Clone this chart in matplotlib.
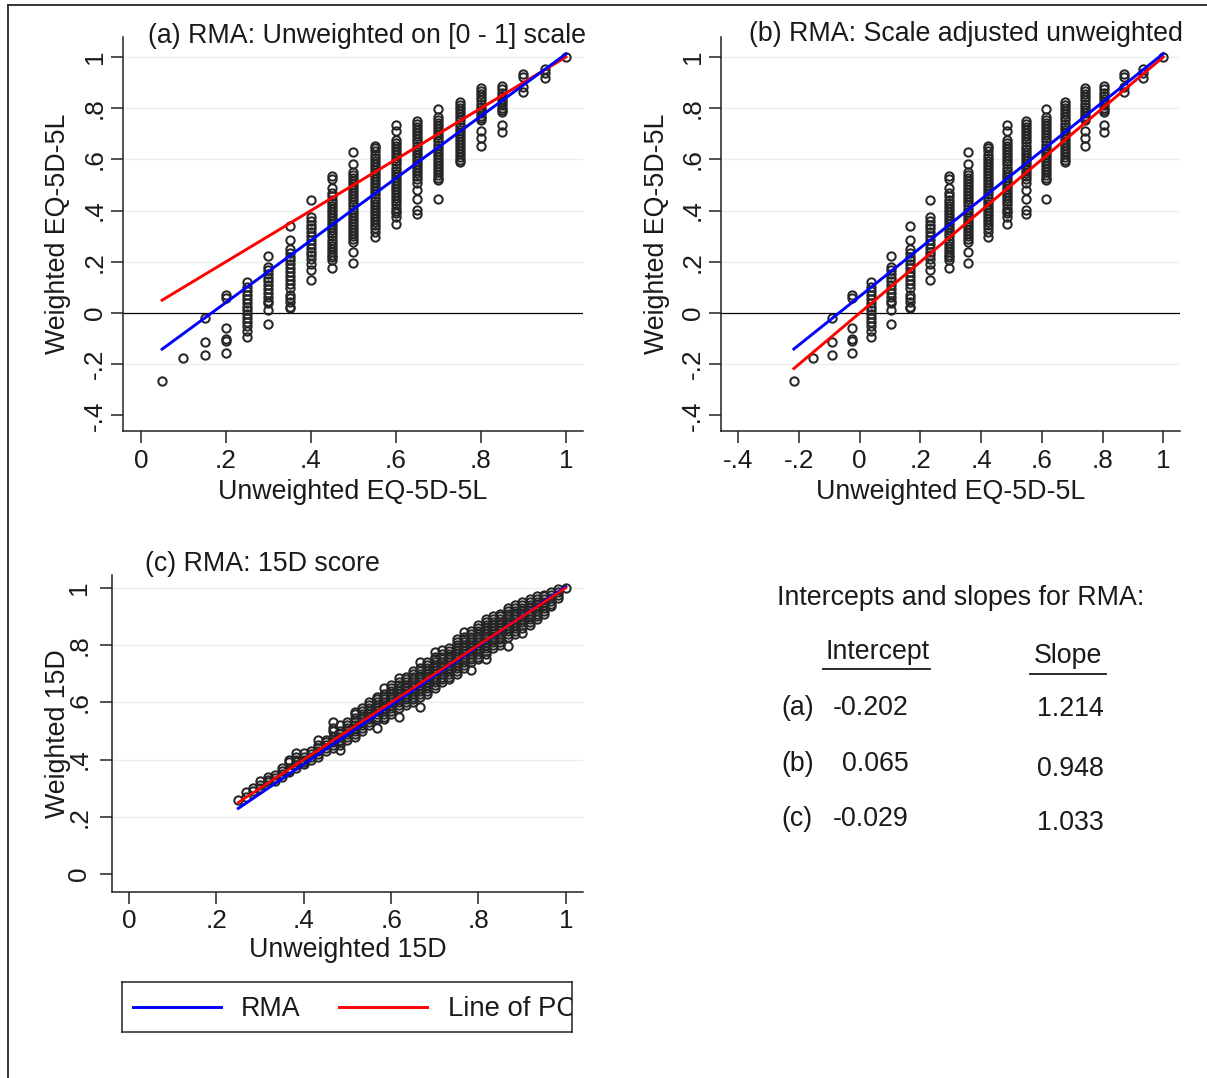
import matplotlib
matplotlib.use('Agg')
import matplotlib.pyplot as plt
from matplotlib.lines import Line2D

plt.rcParams['font.family'] = ['Liberation Sans', 'DejaVu Sans']

# ---------------- data ----------------
# Panel (a): unweighted EQ-5D-5L on [0-1] scale (discrete columns)
x_a = [0.05, 0.10, 0.15, 0.20, 0.25, 0.30, 0.35, 0.40, 0.45, 0.50,
       0.55, 0.60, 0.65, 0.70, 0.75, 0.80, 0.85, 0.90, 0.95, 1.00]
# Panel (b): scale adjusted unweighted values of the same columns
x_b = [-0.217, -0.153, -0.090, -0.026, 0.038, 0.102, 0.166, 0.230, 0.294, 0.358,
       0.422, 0.485, 0.549, 0.613, 0.677, 0.741, 0.805, 0.869, 0.932, 1.000]
# Weighted EQ-5D-5L values in each column (shared by (a) and (b))
y_eq_cols = [
    [-0.264],
    [-0.177],
    [-0.021, -0.115, -0.163],
    [0.07, 0.06, -0.06, -0.10, -0.11, -0.155],
    [0.12, 0.10, 0.085, 0.07, 0.055, 0.04, 0.025, 0.01, -0.005, -0.02, -0.035, -0.05, -0.07, -0.095],
    [0.224, 0.181, 0.168, 0.153, 0.138, 0.123, 0.108, 0.093, 0.078, 0.063, 0.048, 0.038, 0.012, -0.042],
    [0.34, 0.285, 0.249, 0.235, 0.22, 0.205, 0.19, 0.175, 0.16, 0.145, 0.13, 0.115, 0.096, 0.07, 0.06,
     0.044, 0.025, 0.018],
    [0.44, 0.376, 0.36, 0.345, 0.33, 0.315, 0.30, 0.285, 0.27, 0.255, 0.24, 0.225, 0.21, 0.19, 0.168, 0.129],
    [0.534, 0.522, 0.487, 0.467, 0.455, 0.443, 0.431, 0.419, 0.407, 0.395, 0.383, 0.371, 0.359, 0.347,
     0.335, 0.323, 0.311, 0.299, 0.287, 0.275, 0.263, 0.251, 0.239, 0.227, 0.220, 0.207, 0.176],
    [0.63, 0.582, 0.552, 0.540, 0.528, 0.516, 0.504, 0.492, 0.480, 0.468, 0.456, 0.444, 0.432, 0.420,
     0.408, 0.396, 0.384, 0.372, 0.360, 0.348, 0.336, 0.324, 0.312, 0.300, 0.288, 0.276, 0.237, 0.197],
    [0.652, 0.643, 0.631, 0.619, 0.607, 0.595, 0.583, 0.571, 0.559, 0.547, 0.535, 0.523, 0.511, 0.499,
     0.487, 0.475, 0.463, 0.451, 0.439, 0.427, 0.415, 0.403, 0.391, 0.379, 0.367, 0.355, 0.343, 0.331,
     0.318, 0.298],
    [0.734, 0.712, 0.676, 0.664, 0.652, 0.640, 0.628, 0.616, 0.604, 0.592, 0.580, 0.568, 0.556, 0.544,
     0.532, 0.520, 0.508, 0.496, 0.484, 0.472, 0.460, 0.448, 0.436, 0.424, 0.412, 0.400, 0.389, 0.376,
     0.346],
    [0.75, 0.738, 0.726, 0.714, 0.702, 0.690, 0.678, 0.666, 0.654, 0.642, 0.630, 0.618, 0.606, 0.594,
     0.582, 0.570, 0.558, 0.546, 0.534, 0.522, 0.507, 0.48, 0.444, 0.402, 0.387],
    [0.798, 0.767, 0.754, 0.742, 0.730, 0.718, 0.706, 0.694, 0.682, 0.670, 0.658, 0.646, 0.634, 0.622,
     0.610, 0.598, 0.586, 0.574, 0.562, 0.550, 0.538, 0.526, 0.52, 0.447],
    [0.824, 0.812, 0.800, 0.788, 0.776, 0.764, 0.752, 0.740, 0.728, 0.716, 0.704, 0.692, 0.680, 0.668,
     0.656, 0.644, 0.632, 0.620, 0.608, 0.596, 0.591],
    [0.878, 0.866, 0.854, 0.842, 0.830, 0.818, 0.806, 0.794, 0.782, 0.770, 0.760, 0.754, 0.712, 0.682,
     0.652],
    [0.885, 0.873, 0.861, 0.849, 0.837, 0.825, 0.813, 0.801, 0.792, 0.786, 0.734, 0.708],
    [0.934, 0.92, 0.884, 0.862],
    [0.952, 0.936, 0.919],
    [1.0],
]

# Panel (c): unweighted 15D columns and weighted 15D values
x_c = [0.250, 0.267, 0.283, 0.300, 0.317, 0.333, 0.350, 0.367, 0.383, 0.400,
       0.417, 0.433, 0.450, 0.467, 0.483, 0.500, 0.517, 0.533, 0.550, 0.567,
       0.583, 0.600, 0.617, 0.633, 0.650, 0.667, 0.683, 0.700, 0.717, 0.733,
       0.750, 0.767, 0.783, 0.800, 0.817, 0.833, 0.850, 0.867, 0.883, 0.900,
       0.917, 0.933, 0.950, 0.967, 0.983, 1.000]
y_c_cols = [
    [0.26],
    [0.27, 0.285],
    [0.30, 0.29],
    [0.31, 0.326, 0.30],
    [0.33, 0.32, 0.34],
    [0.346, 0.335, 0.325],
    [0.36, 0.35, 0.34, 0.37],
    [0.40, 0.39, 0.37, 0.36, 0.355],
    [0.423, 0.41, 0.40, 0.39, 0.38, 0.37],
    [0.424, 0.41, 0.40, 0.39, 0.385],
    [0.43, 0.42, 0.41, 0.40],
    [0.468, 0.45, 0.44, 0.43, 0.42, 0.41],
    [0.47, 0.46, 0.45, 0.44, 0.43],
    [0.532, 0.51, 0.50, 0.48, 0.47, 0.46, 0.45, 0.44],
    [0.52, 0.50, 0.49, 0.48, 0.47, 0.46, 0.434, 0.45],
    [0.53, 0.52, 0.51, 0.50, 0.49, 0.48, 0.47],
    [0.567, 0.56, 0.545, 0.53, 0.52, 0.51, 0.50, 0.49, 0.48],
    [0.58, 0.57, 0.56, 0.55, 0.54, 0.53, 0.52, 0.51, 0.50],
    [0.60, 0.59, 0.58, 0.57, 0.56, 0.55, 0.54, 0.53, 0.52],
    [0.62, 0.61, 0.60, 0.59, 0.58, 0.57, 0.56, 0.55, 0.54, 0.509],
    [0.649, 0.63, 0.62, 0.61, 0.60, 0.59, 0.58, 0.57, 0.56, 0.55, 0.54],
    [0.66, 0.65, 0.64, 0.63, 0.62, 0.61, 0.60, 0.59, 0.58, 0.57, 0.56],
    [0.684, 0.67, 0.66, 0.65, 0.64, 0.63, 0.62, 0.61, 0.60, 0.59, 0.58, 0.55],
    [0.69, 0.68, 0.67, 0.66, 0.65, 0.64, 0.63, 0.62, 0.61, 0.60, 0.59],
    [0.71, 0.70, 0.69, 0.68, 0.67, 0.66, 0.65, 0.64, 0.63, 0.62, 0.61, 0.60],
    [0.742, 0.72, 0.71, 0.70, 0.69, 0.68, 0.67, 0.66, 0.65, 0.64, 0.63, 0.62, 0.583],
    [0.74, 0.73, 0.72, 0.71, 0.70, 0.69, 0.68, 0.67, 0.66, 0.65, 0.64, 0.63],
    [0.777, 0.76, 0.75, 0.74, 0.73, 0.72, 0.71, 0.70, 0.69, 0.68, 0.67, 0.66, 0.65],
    [0.783, 0.77, 0.76, 0.75, 0.74, 0.73, 0.72, 0.71, 0.70, 0.69, 0.68, 0.67],
    [0.79, 0.78, 0.77, 0.76, 0.75, 0.74, 0.73, 0.72, 0.71, 0.70, 0.69, 0.68],
    [0.82, 0.81, 0.80, 0.79, 0.78, 0.77, 0.76, 0.75, 0.74, 0.73, 0.72, 0.71, 0.70],
    [0.847, 0.83, 0.82, 0.81, 0.80, 0.79, 0.78, 0.77, 0.76, 0.75, 0.74, 0.73, 0.72],
    [0.85, 0.84, 0.83, 0.82, 0.81, 0.80, 0.79, 0.78, 0.77, 0.76, 0.75, 0.74, 0.713],
    [0.87, 0.86, 0.85, 0.84, 0.83, 0.82, 0.81, 0.80, 0.79, 0.78, 0.77, 0.76, 0.75],
    [0.89, 0.88, 0.87, 0.86, 0.85, 0.84, 0.83, 0.82, 0.81, 0.80, 0.79, 0.78, 0.77, 0.75],
    [0.90, 0.89, 0.88, 0.87, 0.86, 0.85, 0.84, 0.83, 0.82, 0.81, 0.80, 0.79],
    [0.91, 0.90, 0.89, 0.88, 0.87, 0.86, 0.85, 0.84, 0.83, 0.82, 0.81, 0.80],
    [0.929, 0.92, 0.91, 0.90, 0.89, 0.88, 0.87, 0.86, 0.85, 0.84, 0.83, 0.797],
    [0.94, 0.93, 0.92, 0.91, 0.90, 0.89, 0.88, 0.87, 0.86, 0.85, 0.84],
    [0.95, 0.94, 0.93, 0.92, 0.91, 0.90, 0.89, 0.88, 0.87, 0.86, 0.841],
    [0.96, 0.95, 0.94, 0.93, 0.92, 0.91, 0.90, 0.89, 0.88, 0.87],
    [0.97, 0.96, 0.95, 0.94, 0.93, 0.92, 0.91, 0.90, 0.89],
    [0.976, 0.97, 0.96, 0.95, 0.94, 0.93, 0.92, 0.91],
    [0.985, 0.975, 0.965, 0.955, 0.945, 0.935],
    [0.995, 0.985, 0.975, 0.965],
    [1.0],
]

# RMA fits (from the table)
panel_ids = ['(a)', '(b)', '(c)']
intercepts = [-0.202, 0.065, -0.029]
slopes = [1.214, 0.948, 1.033]
intercept_labels = ['-0.202', '0.065', '-0.029']
slope_labels = ['1.214', '0.948', '1.033']

titles = ['(a) RMA: Unweighted on [0 - 1] scale',
          '(b) RMA: Scale adjusted unweighted',
          '(c) RMA: 15D score']

yticks_eq = [-0.4, -0.2, 0, 0.2, 0.4, 0.6, 0.8, 1]
yticklabels_eq = ['-.4', '-.2', '0', '.2', '.4', '.6', '.8', '1']
xticks_a = [0, 0.2, 0.4, 0.6, 0.8, 1]
xticklabels_a = ['0', '.2', '.4', '.6', '.8', '1']
xticks_b = [-0.4, -0.2, 0, 0.2, 0.4, 0.6, 0.8, 1]
xticklabels_b = ['-.4', '-.2', '0', '.2', '.4', '.6', '.8', '1']
ticks_c = [0, 0.2, 0.4, 0.6, 0.8, 1]
ticklabels_c = ['0', '.2', '.4', '.6', '.8', '1']

legend_labels = ['RMA', 'Line of PC']

# ---------------- styling ----------------
W, H = 1207, 1078
TXT = '#1a1a1a'
MK = '#262626'
GRID = '#e8f0f2'
FS_TICK = 18.8
FS_LAB = 19.3
BLUE = '#0000ff'
RED = '#ff0000'

fig = plt.figure(figsize=(W / 100, H / 100), dpi=100)
fig.patch.set_facecolor('white')


def fr(l, t, r, b):
    return [l / W, 1 - b / H, (r - l) / W, (b - t) / H]


def flatten(xs, cols):
    xx, yy = [], []
    for x, col in zip(xs, cols):
        for y in col:
            xx.append(x)
            yy.append(y)
    return xx, yy


def style_axes(ax, xlim, ylim, xt, xtl, yt, ytl, grid_vals, zero_line, ypad=3):
    ax.set_xlim(*xlim)
    ax.set_ylim(*ylim)
    for s in ['top', 'right']:
        ax.spines[s].set_visible(False)
    for s in ['left', 'bottom']:
        ax.spines[s].set_linewidth(1.1)
        ax.spines[s].set_color('#222222')
    ax.set_xticks(xt)
    ax.set_xticklabels(xtl)
    ax.set_yticks(yt)
    ax.set_yticklabels(ytl)
    ax.tick_params(axis='both', direction='out', length=8.6, width=1.1,
                   color='#222222', labelsize=FS_TICK, labelcolor=TXT)
    ax.tick_params(axis='x', pad=4)
    ax.tick_params(axis='y', pad=ypad, labelrotation=90)
    for lab in ax.get_yticklabels():
        lab.set_va('center')
    for g in grid_vals:
        ax.axhline(g, color=GRID, lw=1.0, zorder=0)
    if zero_line:
        ax.axhline(0, color='black', lw=0.9, zorder=1)


def set_labels(ax, xlabel, ylabel, xl_pos, yl_pos):
    ax.set_xlabel(xlabel, fontsize=FS_LAB, color=TXT)
    ax.set_ylabel(ylabel, fontsize=FS_LAB, color=TXT)
    ax.xaxis.label.set_va('center')
    ax.yaxis.label.set_va('center')
    ax.yaxis.label.set_rotation_mode('anchor')
    ax.xaxis.set_label_coords(*xl_pos)
    ax.yaxis.set_label_coords(*yl_pos)


mk_kw = dict(linestyle='none', marker='o', markersize=6.0, markerfacecolor='none',
             markeredgecolor=MK, markeredgewidth=1.45, zorder=2)
LW = 2.1

# ---------- panel (a) ----------
ax_a = fig.add_axes(fr(123, 37, 583, 431))
ya_lim = (-0.461, 1.078)
style_axes(ax_a, (-0.042, 1.04), ya_lim, xticks_a, xticklabels_a, yticks_eq, yticklabels_eq,
           [0.2, 0.4, 0.6, 0.8, 1.0, -0.2], True)
xx, yy = flatten(x_a, y_eq_cols)
ax_a.plot(xx, yy, **mk_kw)
xa0, xa1 = min(x_a), max(x_a)
ax_a.plot([xa0, xa1], [xa0, xa1], color=RED, lw=LW, zorder=3)
ax_a.plot([xa0, xa1], [intercepts[0] + slopes[0] * xa0, intercepts[0] + slopes[0] * xa1],
          color=BLUE, lw=LW, zorder=3)
set_labels(ax_a, 'Unweighted EQ-5D-5L', 'Weighted EQ-5D-5L',
           (0.5, (431 - 492) / 394), ((58 - 123) / 460, 0.5))

# ---------- panel (b) ----------
ax_b = fig.add_axes(fr(720.7, 37, 1180, 431))
style_axes(ax_b, (-0.458, 1.055), ya_lim, xticks_b, xticklabels_b, yticks_eq, yticklabels_eq,
           [0.2, 0.4, 0.6, 0.8, 1.0, -0.2], True)
xx, yy = flatten(x_b, y_eq_cols)
ax_b.plot(xx, yy, **mk_kw)
xb0, xb1 = min(x_b), max(x_b)
ax_b.plot([xb0, xb1], [xb0, xb1], color=RED, lw=LW, zorder=3)
ax_b.plot([xb0, xb1], [intercepts[1] + slopes[1] * xb0, intercepts[1] + slopes[1] * xb1],
          color=BLUE, lw=LW, zorder=4)
set_labels(ax_b, 'Unweighted EQ-5D-5L', 'Weighted EQ-5D-5L',
           (0.5, (431 - 492) / 394), ((657 - 720.7) / 459.3, 0.5))

# ---------- panel (c) ----------
ax_c = fig.add_axes(fr(111.7, 575, 583.3, 891.7))
style_axes(ax_c, (-0.040, 1.040), (-0.062, 1.045), ticks_c, ticklabels_c, ticks_c, ticklabels_c,
           [0.2, 0.4, 0.6, 0.8, 1.0], False, ypad=6)
xx, yy = flatten(x_c, y_c_cols)
ax_c.plot(xx, yy, **mk_kw)
xc0, xc1 = min(x_c), max(x_c)
ax_c.plot([xc0, xc1], [intercepts[2] + slopes[2] * xc0, intercepts[2] + slopes[2] * xc1],
          color=BLUE, lw=LW, zorder=3)
ax_c.plot([xc0, xc1], [xc0, xc1], color=RED, lw=LW * 0.9, zorder=4)
set_labels(ax_c, 'Unweighted 15D', 'Weighted 15D',
           (0.5, (891.7 - 950) / 316.7), ((58 - 111.7) / 471.6, 0.5))

# ---------- titles ----------
def ftext(x, y, s, **kw):
    kw.setdefault('fontsize', FS_LAB)
    kw.setdefault('color', TXT)
    kw.setdefault('va', 'center')
    fig.text(x / W, 1 - y / H, s, **kw)


ftext(148, 36, titles[0], ha='left')
ftext(749, 34, titles[1], ha='left')
ftext(145, 564, titles[2], ha='left')

# ---------- table text ----------
ftext(961, 598, 'Intercepts and slopes for RMA:', ha='center')
ftext(878, 652, 'Intercept', ha='center')
ftext(1068, 656, 'Slope', ha='center')
fig.add_artist(Line2D([823 / W, 930 / W], [1 - 669 / H, 1 - 669 / H], color=TXT, lw=1.3))
fig.add_artist(Line2D([1030 / W, 1106 / W], [1 - 674 / H, 1 - 674 / H], color=TXT, lw=1.3))
row_y = [708, 764, 819]
slope_y = [709, 769, 823]
int_left = [833, 842, 833]
for pid, il, sl, ry, sy, ix in zip(panel_ids, intercept_labels, slope_labels, row_y, slope_y, int_left):
    ftext(781, ry, pid, ha='left')
    ftext(ix, ry, il, ha='left')
    ftext(1037, sy, sl, ha='left')

# ---------- legend ----------
ax_leg = fig.add_axes(fr(121.7, 981.7, 571.7, 1032.3))
ax_leg.set_xlim(0, 1)
ax_leg.set_ylim(0, 1)
ax_leg.set_xticks([])
ax_leg.set_yticks([])
for s in ax_leg.spines.values():
    s.set_linewidth(1.1)
    s.set_color('#222222')
ax_leg.plot([0.025, 0.221], [0.5, 0.5], color=BLUE, lw=2.1)
ax_leg.plot([0.483, 0.679], [0.5, 0.5], color=RED, lw=2.1)
ax_leg.text(0.265, 0.47, legend_labels[0], fontsize=FS_LAB, color=TXT, va='center', ha='left')
t = ax_leg.text(0.725, 0.47, legend_labels[1], fontsize=FS_LAB + 0.5, color=TXT, va='center', ha='left')
t.set_clip_on(True)

# ---------- outer frame ----------
fig.add_artist(Line2D([8 / W, 1.0], [1 - 5 / H, 1 - 5 / H], color='#333333', lw=1.4))
fig.add_artist(Line2D([8 / W, 8 / W], [0, 1 - 5 / H], color='#333333', lw=1.4))

fig.savefig('out.png', dpi=100, facecolor='white')
